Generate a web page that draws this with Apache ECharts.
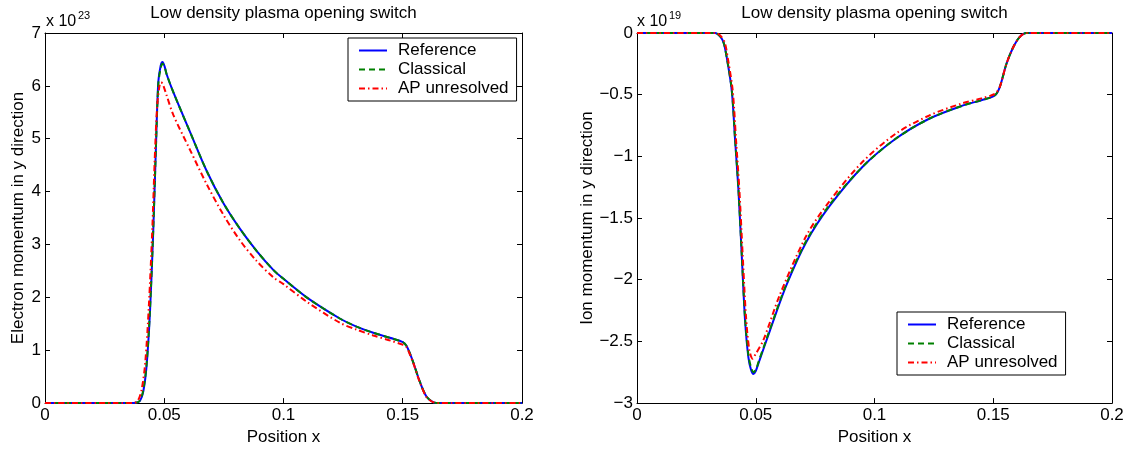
<!DOCTYPE html>
<html>
<head>
<meta charset="utf-8">
<script src="https://cdn.jsdelivr.net/npm/echarts@6/dist/echarts.min.js"></script>
<style>
html,body{margin:0;padding:0;background:#fff;}
#chart{width:1128px;height:451px;}
</style>
</head>
<body>
<div id="chart"></div>
<script>
// ---------- Data (values in units of 1e23 for left, 1e19 for right) ----------
const seriesNames = ['Reference', 'Classical', 'AP unresolved'];
const xTicks = [0, 0.05, 0.1, 0.15, 0.2];

// Left: electron momentum
const eRefX = [0, 0.03, 0.036, 0.038, 0.0398, 0.0412, 0.0426, 0.044, 0.0454, 0.0465, 0.0475, 0.0485, 0.0493, 0.0502, 0.051, 0.0538, 0.0608, 0.0678, 0.0747, 0.0817, 0.0887, 0.0957, 0.1, 0.11, 0.1236, 0.1306, 0.1376, 0.145, 0.1502, 0.1516, 0.153, 0.1544, 0.1572, 0.16, 0.1627, 0.165, 0.18, 0.2];
const eRefY = [0, 0, 0, 0.005, 0.04, 0.22, 0.71, 1.71, 3.27, 4.82, 6.07, 6.38, 6.45, 6.36, 6.22, 5.88, 5.13, 4.39, 3.79, 3.3, 2.88, 2.52, 2.35, 1.99, 1.6, 1.445, 1.33, 1.23, 1.15, 1.08, 0.94, 0.77, 0.4, 0.12, 0.02, 0, 0, 0];
const eClaX = [0, 0.03, 0.036, 0.038, 0.0398, 0.0412, 0.0426, 0.044, 0.0454, 0.0465, 0.0475, 0.0485, 0.0493, 0.0502, 0.051, 0.0538, 0.0608, 0.0678, 0.0747, 0.0817, 0.0887, 0.0957, 0.1, 0.11, 0.1236, 0.1306, 0.1376, 0.145, 0.1502, 0.1516, 0.153, 0.1544, 0.1572, 0.16, 0.1627, 0.165, 0.18, 0.2];
const eClaY = [0, 0, 0, 0.005, 0.05, 0.24, 0.74, 1.75, 3.3, 4.82, 6.02, 6.34, 6.42, 6.35, 6.22, 5.88, 5.13, 4.39, 3.79, 3.3, 2.88, 2.52, 2.35, 1.99, 1.6, 1.445, 1.33, 1.23, 1.15, 1.08, 0.94, 0.77, 0.4, 0.12, 0.02, 0, 0, 0];
const eApX = [0, 0.03, 0.0355, 0.0375, 0.039, 0.0405, 0.042, 0.0435, 0.045, 0.046, 0.047, 0.048, 0.0487, 0.0495, 0.051, 0.0538, 0.0608, 0.0678, 0.0747, 0.0817, 0.0887, 0.0957, 0.1, 0.11, 0.1236, 0.1306, 0.1376, 0.145, 0.1502, 0.1516, 0.153, 0.1544, 0.1572, 0.16, 0.1627, 0.165, 0.18, 0.2];
const eApY = [0, 0, 0, 0.005, 0.05, 0.25, 0.75, 1.8, 3.3, 4.6, 5.6, 6.0, 6.07, 6.02, 5.82, 5.45, 4.79, 4.14, 3.57, 3.08, 2.69, 2.38, 2.25, 1.91, 1.52, 1.39, 1.28, 1.18, 1.1, 1.06, 0.92, 0.76, 0.39, 0.11, 0.02, 0, 0, 0];

// Right: ion momentum
const iRefX = [0, 0.03, 0.0329, 0.035, 0.0365, 0.0378, 0.0399, 0.0413, 0.0427, 0.0441, 0.0455, 0.0469, 0.048, 0.049, 0.05, 0.0511, 0.056, 0.063, 0.0714, 0.0812, 0.0952, 0.1092, 0.1232, 0.1373, 0.145, 0.1506, 0.1527, 0.1555, 0.1583, 0.161, 0.1639, 0.17, 0.2];
const iRefY = [0, 0, 0, -0.027, -0.08, -0.2, -0.467, -0.867, -1.27, -1.8, -2.33, -2.63, -2.73, -2.765, -2.74, -2.68, -2.41, -2.04, -1.69, -1.4, -1.08, -0.853, -0.693, -0.587, -0.545, -0.507, -0.44, -0.253, -0.12, -0.035, 0, 0, 0];
const iClaX = [0, 0.03, 0.0329, 0.035, 0.0365, 0.0378, 0.0399, 0.0413, 0.0427, 0.0441, 0.0455, 0.0469, 0.048, 0.049, 0.05, 0.0511, 0.056, 0.063, 0.0714, 0.0812, 0.0952, 0.1092, 0.1232, 0.1373, 0.145, 0.1506, 0.1527, 0.1555, 0.1583, 0.161, 0.1639, 0.17, 0.2];
const iClaY = [0, 0, 0, -0.027, -0.08, -0.2, -0.46, -0.86, -1.26, -1.79, -2.31, -2.61, -2.71, -2.75, -2.73, -2.67, -2.4, -2.03, -1.68, -1.39, -1.08, -0.853, -0.693, -0.587, -0.545, -0.507, -0.44, -0.253, -0.12, -0.035, 0, 0, 0];
const iApX = [0, 0.03, 0.0333, 0.0354, 0.037, 0.0382, 0.0403, 0.0417, 0.0431, 0.0445, 0.0459, 0.0473, 0.0487, 0.05, 0.0532, 0.0602, 0.0714, 0.0812, 0.0952, 0.1092, 0.1232, 0.1373, 0.145, 0.1506, 0.1527, 0.1555, 0.1583, 0.161, 0.1639, 0.17, 0.2];
const iApY = [0, 0, 0, -0.027, -0.08, -0.2, -0.467, -0.867, -1.27, -1.8, -2.3, -2.57, -2.64, -2.6, -2.49, -2.12, -1.64, -1.36, -1.04, -0.813, -0.667, -0.568, -0.53, -0.493, -0.44, -0.253, -0.12, -0.035, 0, 0, 0];

const titleText = 'Low density plasma opening switch';
const leftYName = 'Electron momentum in y direction';
const rightYName = 'Ion momentum in y direction';
const xName = 'Position x';
const leftExp = '23';
const rightExp = '19';

// ---------- Chart ----------
const FONT = '"Liberation Sans", Arial, Helvetica, sans-serif';
const FS = 17;
const pair = (xs, ys) => xs.map((x, i) => [x, ys[i]]);
const colors = ['#0000ff', '#008000', '#ff0000'];
const dashes = ['solid', [6, 4], [6, 3, 1.5, 3]];
const widths = [2, 2, 2];

const chart = echarts.init(document.getElementById('chart'), null, {renderer: 'canvas'});

function xAx(grid, top) {
  return {
    type: 'value', gridIndex: grid, min: 0, max: 0.2, interval: 0.05,
    position: top ? 'top' : 'bottom',
    name: top ? '' : xName, nameLocation: 'middle', nameGap: 21,
    nameTextStyle: {color: '#000', fontSize: FS, fontFamily: FONT},
    axisLine: {show: true, onZero: false, lineStyle: {color: '#000', width: 1}},
    axisTick: {show: true, inside: true, length: 5, lineStyle: {color: '#000'}},
    axisLabel: {show: !top, color: '#000', fontSize: FS, fontFamily: FONT, margin: 4,
      formatter: v => String(+v.toFixed(3))},
    splitLine: {show: false}
  };
}
function yAx(grid, right, min, max, interval, name, gap) {
  return {
    type: 'value', gridIndex: grid, min: min, max: max, interval: interval,
    position: right ? 'right' : 'left',
    name: right ? '' : name, nameLocation: 'middle', nameGap: gap, nameRotate: 90,
    nameTextStyle: {color: '#000', fontSize: FS, fontFamily: FONT},
    axisLine: {show: true, onZero: false, lineStyle: {color: '#000', width: 1}},
    axisTick: {show: true, inside: true, length: 5, lineStyle: {color: '#000'}},
    axisLabel: {show: !right, color: '#000', fontSize: FS, fontFamily: FONT, margin: 4,
      formatter: v => String(+v.toFixed(3)).replace('-', '\u2212')},
    splitLine: {show: false}
  };
}
function mkSeries(data, idx, xi, yi) {
  return {
    type: 'line', name: seriesNames[idx], xAxisIndex: xi, yAxisIndex: yi,
    data: data, symbol: 'none', showSymbol: false, smooth: 0.3,
    lineStyle: {color: colors[idx], width: widths[idx], type: dashes[idx]},
    itemStyle: {color: colors[idx]},
    animation: false, z: 2 + idx
  };
}
function legend(left, top) {
  return {
    data: seriesNames, orient: 'vertical', left: left, top: top,
    borderColor: '#000', borderWidth: 1, backgroundColor: '#fff', borderRadius: 0,
    padding: [4, 8, 4, 10], itemWidth: 28, itemHeight: 14, itemGap: 2,
    selectedMode: false,
    itemStyle: {opacity: 0},
    textStyle: {color: '#000', fontSize: FS, fontFamily: FONT, lineHeight: 17, padding: [0, 0, 0, 6]}
  };
}

const option = {
  animation: false,
  backgroundColor: '#fff',
  grid: [
    {left: 45, top: 33, width: 477, height: 375},
    {left: 637, top: 33, width: 475, height: 375}
  ],
  xAxis: [xAx(0, false), xAx(0, true), xAx(1, false), xAx(1, true)],
  yAxis: [
    yAx(0, false, 0, 7, 1, leftYName, 18),
    yAx(0, true, 0, 7, 1, '', 0),
    yAx(1, false, -3, 0, 0.5, rightYName, 39),
    yAx(1, true, -3, 0, 0.5, '', 0)
  ],
  legend: [legend(348, 38), legend(897, 312)],
  series: [
    mkSeries(pair(eRefX, eRefY), 0, 0, 0),
    mkSeries(pair(eClaX, eClaY), 1, 0, 0),
    mkSeries(pair(eApX, eApY), 2, 0, 0),
    mkSeries(pair(iRefX, iRefY), 0, 2, 2),
    mkSeries(pair(iClaX, iClaY), 1, 2, 2),
    mkSeries(pair(iApX, iApY), 2, 2, 2)
  ],
  graphic: [
    {type: 'text', x: 283.5, y: 5, style: {text: titleText, font: FS + 'px ' + FONT, fill: '#000', textAlign: 'center', textVerticalAlign: 'top'}},
    {type: 'text', x: 874.5, y: 5, style: {text: titleText, font: FS + 'px ' + FONT, fill: '#000', textAlign: 'center', textVerticalAlign: 'top'}},
    {type: 'text', x: 46, y: 14, style: {text: 'x 10', font: '16px ' + FONT, fill: '#000', textVerticalAlign: 'top'}},
    {type: 'text', x: 78, y: 10, style: {text: leftExp, font: '11px ' + FONT, fill: '#000', textVerticalAlign: 'top'}},
    {type: 'text', x: 637, y: 14, style: {text: 'x 10', font: '16px ' + FONT, fill: '#000', textVerticalAlign: 'top'}},
    {type: 'text', x: 669, y: 10, style: {text: rightExp, font: '11px ' + FONT, fill: '#000', textVerticalAlign: 'top'}}
  ]
};
chart.setOption(option);
</script>
</body>
</html>
